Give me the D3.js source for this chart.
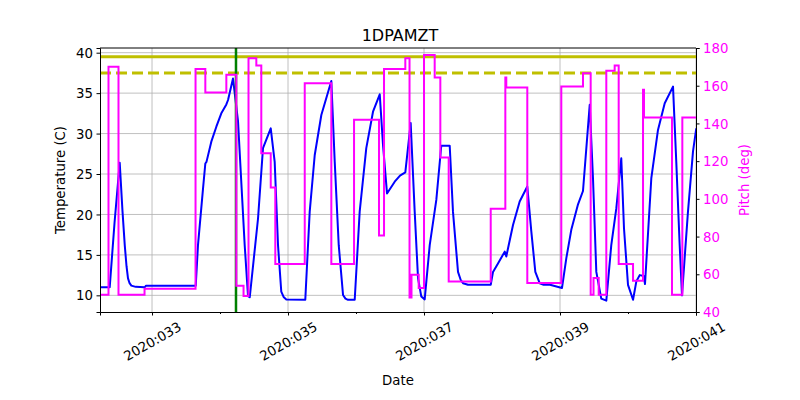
<!DOCTYPE html>
<html>
<head>
<meta charset="utf-8">
<script src="https://cdn.jsdelivr.net/npm/d3@7"></script>
<style>
  body { margin: 0; background: #fff; }
  #chart-area { width: 800px; height: 400px; }
  text { font-family: "DejaVu Sans", sans-serif; }
</style>
</head>
<body>
<div id="chart-area"></div>
<script>

// temperature samples (day of year 2020, degC)
let tempDays = [32.235, 32.246, 32.378, 32.449, 32.525, 32.565, 32.599, 32.625, 32.647, 32.670, 32.696, 32.760, 32.893, 32.912,
    33.643, 33.676, 33.750, 33.784, 33.801, 33.872, 33.946, 34.019, 34.093, 34.118, 34.191, 34.265, 34.363, 34.412, 34.437,
    34.559, 34.632, 34.746, 34.804, 34.853, 34.901, 34.935, 34.975, 35.254, 35.319, 35.393, 35.490, 35.637, 35.687, 35.746,
    35.809, 35.845, 35.882, 35.981, 36.054, 36.151, 36.250, 36.349, 36.397, 36.456, 36.569, 36.647, 36.725, 36.804, 36.863,
    36.912, 36.960, 37.010, 37.084, 37.181, 37.254, 37.378, 37.426, 37.500, 37.540, 37.574, 37.647, 37.981, 38.015, 38.088,
    38.187, 38.210, 38.235, 38.309, 38.407, 38.519, 38.578, 38.637, 38.701, 38.760, 38.853, 39.029, 39.093, 39.166, 39.265,
    39.338, 39.437, 39.485, 39.534, 39.607, 39.681, 39.754, 39.828, 39.901, 39.941, 40.000, 40.074, 40.122, 40.172, 40.231,
    40.250, 40.343, 40.441, 40.540, 40.662, 40.710, 40.760, 40.794, 40.882, 40.956, 41.004];
let tempValues = [11.0, 11.0, 11.0, 19.0, 26.4, 20.5, 16.2, 13.6, 12.1, 11.5, 11.2, 11.05, 11.0, 11.2,
    11.2, 16.2, 23.2, 26.3, 26.5, 29.0, 30.85, 32.5, 33.6, 34.15, 36.8, 31.5, 16.2, 9.9, 9.76,
    19.5, 28.2, 30.65, 26.5, 16.2, 10.45, 9.8, 9.5, 9.45, 20.35, 27.35, 32.3, 36.5, 26.5, 16.2,
    10.05, 9.6, 9.45, 9.45, 20.35, 28.2, 32.7, 34.85, 28.6, 22.6, 24.05, 24.8, 25.2, 31.3, 20.35,
    12.1, 9.85, 9.5, 16.2, 21.8, 28.5, 28.5, 20.35, 12.9, 11.9, 11.5, 11.3, 11.3, 12.9, 13.95,
    15.4, 14.8, 15.8, 18.7, 21.6, 23.45, 17.9, 12.9, 11.5, 11.3, 11.3, 10.9, 14.6, 18.1, 21.25,
    22.9, 33.55, 24.5, 12.9, 9.6, 9.35, 16.2, 20.75, 26.95, 18.3, 11.3, 9.45, 11.7, 12.5, 12.4,
    11.4, 24.5, 30.45, 33.75, 35.8, 26.5, 16.2, 10.0, 20.35, 27.8, 30.65];

// pitch steps (day of year 2020, deg); each value holds until the next day
let pitchDays = [32.235, 32.360, 32.507, 32.890, 33.640, 33.784, 34.093, 34.240, 34.346, 34.419, 34.534, 34.607, 34.746,
    34.813, 35.246, 35.637, 35.971, 36.338, 36.412, 36.725, 36.787, 36.816, 36.922, 37.000, 37.157, 37.240, 37.363,
    37.981, 38.196, 38.210, 38.519, 39.019, 39.338, 39.451, 39.493, 39.569, 39.681, 39.804, 39.863, 40.074, 40.221,
    40.235, 40.647, 40.799, 41.0];
let pitchValues = [49.2, 170.0, 49.2, 52.35, 168.8, 156.4, 165.75, 53.9, 48.5, 174.6, 170.7, 124.25, 106.0,
    65.4, 161.35, 65.4, 141.9, 80.6, 168.8, 174.6, 47.7, 59.8, 52.7, 176.35, 164.3, 121.9, 56.2,
    94.75, 164.3, 159.0, 55.35, 159.55, 166.65, 49.2, 58.0, 49.2, 167.9, 170.7, 65.4, 56.6, 157.8,
    143.15, 49.2, 143.15, 143.15];

let planningLimit = 39.5;   // solid
let cautionLimit = 37.5;    // dashed
let nowDay = 34.235;

let xTickDays = [33, 35, 37, 39, 41];
let xTickLabels = ["2020:033", "2020:035", "2020:037", "2020:039", "2020:041"];
let xMinorDays = [34, 36, 38, 40];
let tempTicks = [10, 15, 20, 25, 30, 35, 40];
let pitchTicks = [40, 60, 80, 100, 120, 140, 160, 180];

class TempPitchChart {

    constructor(parentElement) {
        this._parentElement = parentElement;
        this.initVis();
    }

    initVis() {
        let vis = this;

        vis.margin = {top: 48, right: 104, bottom: 88, left: 100};
        vis.width = 800 - vis.margin.left - vis.margin.right;
        vis.height = 400 - vis.margin.top - vis.margin.bottom;

        vis.root = d3.select("#" + vis._parentElement).append("svg")
            .attr("width", 800)
            .attr("height", 400);

        vis.svg = vis.root.append("g")
            .attr("transform", "translate(" + vis.margin.left + "," + vis.margin.top + ")");

        vis.svg.append("clipPath").attr("id", "plot-clip")
            .append("rect")
            .attr("width", vis.width)
            .attr("height", vis.height);

        // scales
        vis.x = d3.scaleLinear().domain([32.235, 41.0]).range([0, vis.width]);
        vis.y = d3.scaleLinear().domain([7.94, 40.58]).range([vis.height, 0]);
        vis.y2 = d3.scaleLinear().domain([40, 180]).range([vis.height, 0]);

        // grid
        vis.svg.append("g")
            .selectAll("line.vgrid")
            .data(xTickDays)
            .join("line")
            .attr("x1", d => vis.x(d)).attr("x2", d => vis.x(d))
            .attr("y1", 0).attr("y2", vis.height)
            .attr("stroke", "#b0b0b0").attr("stroke-width", 0.8);

        vis.svg.append("g")
            .selectAll("line.hgrid")
            .data(tempTicks)
            .join("line")
            .attr("x1", 0).attr("x2", vis.width)
            .attr("y1", d => vis.y(d)).attr("y2", d => vis.y(d))
            .attr("stroke", "#b0b0b0").attr("stroke-width", 0.8);

        let plot = vis.svg.append("g").attr("clip-path", "url(#plot-clip)");

        // temperature
        let tempLine = d3.line()
            .x(d => vis.x(d[0]))
            .y(d => vis.y(d[1]));

        plot.append("path")
            .datum(d3.zip(tempDays, tempValues))
            .attr("fill", "none")
            .attr("stroke", "#0000ff")
            .attr("stroke-width", 2)
            .attr("stroke-linejoin", "round")
            .attr("d", tempLine);

        // limits
        plot.append("line")
            .attr("x1", 0).attr("x2", vis.width)
            .attr("y1", vis.y(planningLimit)).attr("y2", vis.y(planningLimit))
            .attr("stroke", "#bfbf00").attr("stroke-width", 3);

        plot.append("line")
            .attr("x1", 0).attr("x2", vis.width)
            .attr("y1", vis.y(cautionLimit)).attr("y2", vis.y(cautionLimit))
            .attr("stroke", "#bfbf00").attr("stroke-width", 3)
            .attr("stroke-dasharray", "11,5");

        plot.append("line")
            .attr("x1", vis.x(nowDay)).attr("x2", vis.x(nowDay))
            .attr("y1", 0).attr("y2", vis.height)
            .attr("stroke", "#008000").attr("stroke-width", 2.5);

        // pitch (twin axis)
        let pitchLine = d3.line()
            .curve(d3.curveStepAfter)
            .x(d => vis.x(d[0]))
            .y(d => vis.y2(d[1]));

        plot.append("path")
            .datum(d3.zip(pitchDays, pitchValues))
            .attr("fill", "none")
            .attr("stroke", "#ff00ff")
            .attr("stroke-width", 2)
            .attr("d", pitchLine);

        // axes
        vis.xAxis = d3.axisBottom(vis.x)
            .tickValues(xTickDays)
            .tickSize(3.5)
            .tickPadding(3.5)
            .tickFormat((d, i) => xTickLabels[i]);

        let gx = vis.svg.append("g")
            .attr("class", "x-axis axis")
            .attr("transform", "translate(0," + vis.height + ")")
            .call(vis.xAxis);

        gx.selectAll("text").remove();
        gx.selectAll(".tick")
            .append("text")
            .attr("fill", "#000")
            .attr("font-size", "13.3px")
            .attr("text-anchor", "middle")
            .attr("dominant-baseline", "central")
            .attr("transform", "translate(0,29.5) rotate(-30)")
            .text((d, i) => xTickLabels[i]);

        vis.svg.append("g")
            .attr("transform", "translate(0," + vis.height + ")")
            .call(d3.axisBottom(vis.x).tickValues(xMinorDays).tickSize(2).tickFormat(""))
            .call(g => g.select(".domain").remove());

        vis.svg.append("g")
            .attr("class", "y-axis axis")
            .call(d3.axisLeft(vis.y).tickValues(tempTicks).tickSize(3.5).tickPadding(3.5));

        vis.svg.append("g")
            .attr("class", "y2-axis axis")
            .attr("transform", "translate(" + vis.width + ",0)")
            .call(d3.axisRight(vis.y2).tickValues(pitchTicks).tickSize(3.5).tickPadding(3.5))
            .call(g => g.selectAll("text").attr("fill", "#ff00ff"));

        vis.svg.append("line")
            .attr("x1", 0).attr("x2", vis.width)
            .attr("y1", 0).attr("y2", 0)
            .attr("stroke", "#000").attr("stroke-width", 1);

        vis.svg.selectAll(".axis text").attr("font-size", "13.3px").attr("font-family", "DejaVu Sans");
        vis.svg.selectAll(".axis path.domain, .axis line").attr("stroke", "#000");
        vis.svg.selectAll(".y-axis text, .y2-axis text").attr("dy", "0.35em");

        // labels
        vis.root.append("text")
            .attr("x", 400).attr("y", 41)
            .attr("text-anchor", "middle")
            .attr("font-size", "16px")
            .text("1DPAMZT");

        vis.root.append("text")
            .attr("x", 398).attr("y", 385)
            .attr("text-anchor", "middle")
            .attr("font-size", "13.3px")
            .text("Date");

        vis.root.append("text")
            .attr("transform", "translate(60,180) rotate(-90)")
            .attr("text-anchor", "middle")
            .attr("dominant-baseline", "central")
            .attr("font-size", "13.3px")
            .text("Temperature (C)");

        vis.root.append("text")
            .attr("transform", "translate(744,180) rotate(-90)")
            .attr("text-anchor", "middle")
            .attr("dominant-baseline", "central")
            .attr("font-size", "13.3px")
            .attr("fill", "#ff00ff")
            .text("Pitch (deg)");
    }
}

new TempPitchChart("chart-area");
</script>
</body>
</html>
